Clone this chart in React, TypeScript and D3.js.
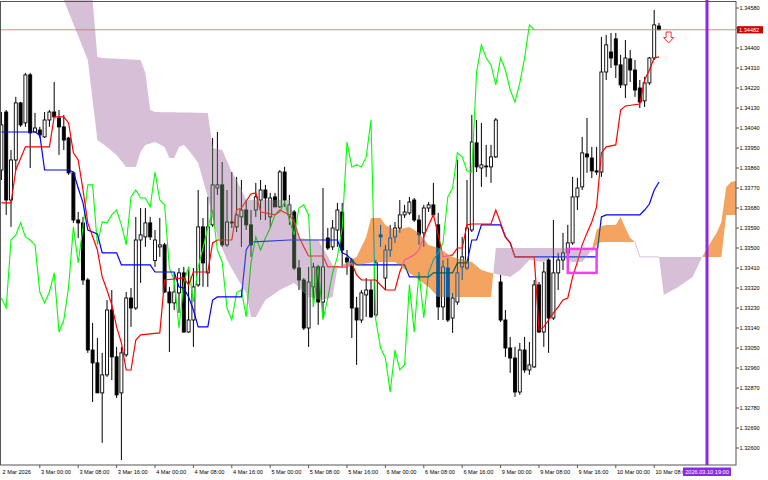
import { scaleLinear, line } from "d3";

const WIDTH = 768;
const HEIGHT = 480;
const PLOT_W = 736;
const PLOT_H = 465;

// H1 bars, first bar = 2 Mar 16:00, OHLC
const CANDLES: [number, number, number, number][] = [
  [1.33851, 1.34112, 1.33806, 1.34054], [1.34112, 1.34121, 1.33649, 1.33716], [1.33716, 1.33941, 1.33595, 1.33896],
  [1.33896, 1.3418, 1.33851, 1.34153], [1.34153, 1.34157, 1.34045, 1.34054], [1.34063, 1.34288, 1.34045, 1.34279],
  [1.34279, 1.34288, 1.3386, 1.34018], [1.34022, 1.34108, 1.34022, 1.3404], [1.34031, 1.34045, 1.33995, 1.34009],
  [1.34, 1.34112, 1.33995, 1.34076], [1.34076, 1.34121, 1.34045, 1.34112], [1.34112, 1.34247, 1.34085, 1.3409],
  [1.34085, 1.34121, 1.33919, 1.34045], [1.34045, 1.34099, 1.33941, 1.33986], [1.33995, 1.34, 1.33829, 1.33838],
  [1.33838, 1.33842, 1.33613, 1.33626], [1.33626, 1.33662, 1.33545, 1.33613], [1.33613, 1.3364, 1.33334, 1.33356],
  [1.33356, 1.33365, 1.33028, 1.33041], [1.33041, 1.33163, 1.32807, 1.32983], [1.32983, 1.33095, 1.32848, 1.32848],
  [1.32848, 1.33028, 1.32623, 1.32929], [1.32929, 1.33266, 1.3292, 1.33221], [1.33221, 1.33311, 1.32906, 1.3301],
  [1.3301, 1.33055, 1.32825, 1.32839], [1.32848, 1.33055, 1.32546, 1.33028], [1.33019, 1.33302, 1.3301, 1.33275],
  [1.33275, 1.3332, 1.33145, 1.3323], [1.3323, 1.3364, 1.33221, 1.33536], [1.33536, 1.3368, 1.33343, 1.33559],
  [1.3355, 1.3368, 1.33505, 1.33613], [1.33613, 1.3364, 1.33536, 1.3355], [1.33444, 1.33581, 1.33415, 1.33536],
  [1.33505, 1.33635, 1.3346, 1.33514], [1.33514, 1.33523, 1.33298, 1.33302], [1.33302, 1.33325, 1.33032, 1.33253],
  [1.33253, 1.33388, 1.33221, 1.33302], [1.33298, 1.3341, 1.33208, 1.33388], [1.33388, 1.33415, 1.33118, 1.33122],
  [1.33122, 1.33415, 1.33118, 1.33176], [1.33176, 1.3341, 1.33055, 1.33325], [1.33334, 1.33761, 1.33325, 1.33595],
  [1.33595, 1.33635, 1.33325, 1.33433], [1.33388, 1.3373, 1.33325, 1.33595], [1.33604, 1.33995, 1.33595, 1.33784],
  [1.3377, 1.34022, 1.33739, 1.33784], [1.33784, 1.33887, 1.33505, 1.33514], [1.33514, 1.33761, 1.33505, 1.33617],
  [1.33617, 1.33842, 1.3359, 1.33613], [1.33595, 1.3382, 1.33572, 1.33649], [1.3364, 1.33806, 1.33505, 1.33671],
  [1.33671, 1.33716, 1.33581, 1.33604], [1.33604, 1.33671, 1.3346, 1.33514], [1.33671, 1.33793, 1.3364, 1.3373],
  [1.33716, 1.33806, 1.33626, 1.33761], [1.33761, 1.33784, 1.33626, 1.33725], [1.3364, 1.33748, 1.3359, 1.33725],
  [1.3373, 1.33748, 1.33685, 1.33685], [1.33685, 1.33851, 1.3368, 1.33842], [1.33842, 1.33865, 1.33685, 1.33716],
  [1.33649, 1.33739, 1.33604, 1.33694], [1.33662, 1.33671, 1.33401, 1.3341], [1.3341, 1.33446, 1.33311, 1.33356],
  [1.33356, 1.33365, 1.33131, 1.3314], [1.3314, 1.33415, 1.33055, 1.33347], [1.33325, 1.33433, 1.33235, 1.33415],
  [1.33415, 1.33424, 1.33154, 1.33257], [1.33257, 1.3377, 1.33185, 1.33415], [1.33545, 1.3359, 1.33491, 1.335],
  [1.33505, 1.33626, 1.33491, 1.3359], [1.33581, 1.33703, 1.33505, 1.33671], [1.33662, 1.33703, 1.3341, 1.33491],
  [1.33455, 1.33491, 1.33379, 1.33437], [1.33446, 1.33455, 1.33095, 1.3323], [1.3323, 1.3328, 1.32974, 1.33176],
  [1.33176, 1.33311, 1.33163, 1.33298], [1.33289, 1.33365, 1.3319, 1.33311], [1.33311, 1.33356, 1.33185, 1.3319],
  [1.33199, 1.33446, 1.3319, 1.33433], [1.33559, 1.33604, 1.33505, 1.3355], [1.33365, 1.33514, 1.33311, 1.33491],
  [1.33491, 1.33604, 1.3346, 1.33545], [1.3355, 1.33617, 1.33523, 1.3359], [1.3359, 1.33716, 1.33568, 1.33649],
  [1.33649, 1.33694, 1.33635, 1.33662], [1.33658, 1.3373, 1.33649, 1.33707], [1.33716, 1.33725, 1.33617, 1.33626],
  [1.33626, 1.33649, 1.33514, 1.33559], [1.33568, 1.33694, 1.33505, 1.3368], [1.3368, 1.33707, 1.33662, 1.33694],
  [1.33694, 1.33793, 1.3364, 1.33649], [1.33604, 1.33658, 1.33176, 1.33235], [1.33235, 1.33446, 1.33176, 1.33415],
  [1.3341, 1.33455, 1.33167, 1.33176], [1.33185, 1.33298, 1.33118, 1.33275], [1.33257, 1.33896, 1.33244, 1.33388],
  [1.33415, 1.3355, 1.33356, 1.3346], [1.3341, 1.33806, 1.33401, 1.3359], [1.33581, 1.34099, 1.33572, 1.33977],
  [1.33973, 1.34076, 1.33842, 1.33865], [1.3386, 1.34063, 1.33775, 1.33874], [1.33869, 1.33964, 1.3382, 1.33865],
  [1.33865, 1.33964, 1.33793, 1.3391], [1.3391, 1.34085, 1.33905, 1.34076], [1.33347, 1.33379, 1.33167, 1.33176],
  [1.33176, 1.33221, 1.3301, 1.3305], [1.3305, 1.331, 1.32938, 1.33005], [1.33005, 1.33055, 1.3283, 1.32852],
  [1.32852, 1.33073, 1.32839, 1.33041], [1.33041, 1.331, 1.32938, 1.32951], [1.32951, 1.33077, 1.32929, 1.32974],
  [1.32965, 1.33356, 1.3296, 1.33334], [1.33334, 1.33347, 1.33118, 1.33122], [1.33122, 1.33437, 1.33055, 1.33392],
  [1.33446, 1.33455, 1.33028, 1.33185], [1.33185, 1.33626, 1.33176, 1.33388], [1.33388, 1.33478, 1.33311, 1.33446],
  [1.33446, 1.33568, 1.33401, 1.33478], [1.33478, 1.33604, 1.33433, 1.33523], [1.33523, 1.3382, 1.33514, 1.3373],
  [1.3373, 1.33815, 1.33671, 1.3377], [1.33775, 1.34, 1.33761, 1.33928], [1.33923, 1.34085, 1.33838, 1.3391],
  [1.33905, 1.33955, 1.33815, 1.33847], [1.33847, 1.33955, 1.33829, 1.33842], [1.33842, 1.3445, 1.3382, 1.34292],
  [1.34292, 1.34459, 1.34256, 1.34414], [1.34382, 1.34468, 1.3431, 1.34355], [1.34441, 1.34468, 1.34265, 1.34324],
  [1.34324, 1.34369, 1.3422, 1.34234], [1.34234, 1.34436, 1.34175, 1.34355], [1.34351, 1.34391, 1.34247, 1.34301],
  [1.34301, 1.34346, 1.3418, 1.34211], [1.3422, 1.34256, 1.3413, 1.34157], [1.34162, 1.3427, 1.34135, 1.34243],
  [1.34243, 1.3436, 1.34234, 1.34355], [1.34355, 1.34571, 1.34346, 1.34504], [1.34499, 1.34513, 1.34481, 1.34482],
];

// [bar, price]
const TENKAN: [number, number][] = [
  [0, 1.33703], [2, 1.33703], [3, 1.33851], [5, 1.33955], [10, 1.33955], [11, 1.3409], [13, 1.3409], [14, 1.34063],
  [15, 1.33928], [16, 1.33896], [17, 1.33761], [18, 1.33613], [20, 1.33491], [21, 1.3337], [22, 1.33311], [23, 1.33244],
  [24, 1.33145], [25, 1.33073], [26, 1.32951], [27, 1.32951], [28, 1.33086], [29, 1.33109], [33, 1.33118], [34, 1.33356],
  [38, 1.33365], [39, 1.33334], [40, 1.33392], [43, 1.33392], [44, 1.33523], [45, 1.33536], [48, 1.33536], [49, 1.33671],
  [50, 1.3368], [52, 1.33743], [53, 1.33748], [54, 1.33662], [55, 1.33658], [57, 1.33649], [58, 1.33671], [60, 1.33649],
  [61, 1.33617], [62, 1.3355], [63, 1.33505], [64, 1.33464], [67, 1.33464], [68, 1.33415], [72, 1.33415], [73, 1.33433],
  [74, 1.33379], [75, 1.33356], [78, 1.33356], [80, 1.33311], [82, 1.33311], [83, 1.33392], [84, 1.33446], [86, 1.33469],
  [87, 1.33491], [88, 1.3355], [89, 1.33604], [90, 1.33649], [91, 1.33559], [92, 1.3346], [94, 1.33469], [95, 1.335],
  [96, 1.335], [97, 1.33604], [98, 1.33608], [102, 1.33608], [103, 1.33671], [104, 1.33613], [105, 1.3355], [106, 1.33523],
  [107, 1.3346], [111, 1.3346], [112, 1.33131], [113, 1.33145], [114, 1.33176], [115, 1.33208], [116, 1.33235],
  [117, 1.33266], [118, 1.33275], [119, 1.3337], [120, 1.33437], [121, 1.33514], [122, 1.33568], [123, 1.33617],
  [124, 1.33685], [125, 1.33928], [126, 1.33955], [128, 1.33964], [129, 1.34121], [130, 1.34139], [133, 1.34148],
  [134, 1.34256], [135, 1.34301], [136, 1.34355], [137, 1.3436],
];

const KIJUN: [number, number][] = [
  [0, 1.34022], [7, 1.34022], [8, 1.34009], [9, 1.33851], [14, 1.33851], [15, 1.33842], [16, 1.3377], [17, 1.33703],
  [18, 1.33581], [20, 1.33563], [21, 1.33478], [24, 1.33478], [25, 1.33424], [31, 1.33424], [32, 1.33392], [36, 1.33392],
  [37, 1.33325], [38, 1.3332], [39, 1.3328], [40, 1.33221], [41, 1.33145], [43, 1.33145], [44, 1.33266], [45, 1.3328],
  [50, 1.3328], [51, 1.33491], [52, 1.33527], [60, 1.33536], [70, 1.33536], [71, 1.33478], [72, 1.33469], [74, 1.33424],
  [84, 1.33424], [85, 1.3337], [89, 1.3337], [90, 1.33388], [94, 1.33388], [95, 1.33433], [97, 1.33433], [98, 1.33536],
  [99, 1.33536], [100, 1.33604], [104, 1.33604], [105, 1.3355], [106, 1.33523], [107, 1.3346], [124, 1.3346],
  [125, 1.3364], [126, 1.33649], [133, 1.33649], [134, 1.33671], [135, 1.33698], [136, 1.33761], [137, 1.33797],
];

const SENKOU_A: [number, number][] = [
  [0, 1.34886], [8, 1.34751], [13, 1.34616], [18, 1.34346], [20, 1.33986], [22, 1.33955], [24, 1.33919], [26, 1.33865],
  [28, 1.33865], [29, 1.33932], [30, 1.33964], [32, 1.33977], [34, 1.33955], [35, 1.33905], [36, 1.33905], [37, 1.33955],
  [38, 1.33964], [39, 1.33941], [41, 1.33883], [43, 1.3373], [45, 1.3355], [47, 1.33446], [49, 1.3337], [51, 1.33298],
  [52, 1.3319], [53, 1.3319], [55, 1.33266], [58, 1.33311], [61, 1.33343], [64, 1.3328], [67, 1.33266], [69, 1.3328],
  [70, 1.3341], [74, 1.3346], [76, 1.3355], [77, 1.33635], [79, 1.33635], [80, 1.33604], [82, 1.33581], [85, 1.33595],
  [87, 1.33568], [89, 1.33514], [91, 1.335], [94, 1.3346], [98, 1.33437], [100, 1.33401], [102, 1.33388], [106, 1.3337],
  [108, 1.33401], [110, 1.33446], [113, 1.33437], [115, 1.33469], [119, 1.33437], [121, 1.33437], [123, 1.33491],
  [124, 1.33581], [125, 1.33599], [126, 1.33604], [128, 1.33604], [129, 1.3364], [130, 1.3359], [131, 1.33545],
  [132, 1.33527], [133, 1.3346], [137, 1.3346], [138, 1.33289], [141, 1.33325], [144, 1.3337], [145, 1.33415],
  [146, 1.3346], [147, 1.335], [149, 1.33568], [150, 1.33617], [151, 1.33775], [152, 1.33797], [154, 1.33806],
];

const SENKOU_B: [number, number][] = [
  [0, 1.34976], [16, 1.34751], [19, 1.34616], [20, 1.3436], [21, 1.34355], [29, 1.34346], [30, 1.34288], [31, 1.34121],
  [32, 1.34112], [43, 1.34108], [44, 1.3395], [46, 1.33941], [48, 1.33842], [49, 1.33806], [51, 1.33716], [60, 1.33716],
  [62, 1.33545], [66, 1.33536], [67, 1.335], [69, 1.33424], [70, 1.3341], [74, 1.33424], [78, 1.33437], [82, 1.33437],
  [85, 1.33388], [89, 1.33325], [91, 1.3328], [102, 1.3328], [103, 1.335], [122, 1.335], [123, 1.33482], [124, 1.33514],
  [125, 1.33527], [132, 1.33527], [133, 1.3346], [150, 1.3346], [151, 1.33649], [154, 1.33649],
];

const CHIKOU_SHIFT = 26;

const PRICE_TICKS = [
  1.3458, 1.3449, 1.344, 1.3431, 1.3422, 1.3413, 1.3404, 1.3395, 1.3386, 1.3377, 1.3368, 1.3359,
  1.335, 1.3341, 1.3332, 1.3323, 1.3314, 1.3305, 1.3296, 1.3287, 1.3278, 1.3269, 1.326,
];

const TIME_LABELS: [number, string][] = [
  [0, "2 Mar 2026"], [8, "3 Mar 00:00"], [16, "3 Mar 08:00"], [24, "3 Mar 16:00"], [32, "4 Mar 00:00"],
  [40, "4 Mar 08:00"], [48, "4 Mar 16:00"], [56, "5 Mar 00:00"], [64, "5 Mar 08:00"], [72, "5 Mar 16:00"],
  [80, "6 Mar 00:00"], [88, "6 Mar 08:00"], [96, "6 Mar 16:00"], [104, "9 Mar 00:00"], [112, "9 Mar 08:00"],
  [120, "9 Mar 16:00"], [128, "10 Mar 00:00"], [136, "10 Mar 08:00"],
];

const LAST_PRICE = 1.34482;
const VLINE_BAR = 147;
const VLINE_LABEL = "2026.03.10 19:00";
const SELL_ARROW: [number, number] = [139, 1.34472];
const BOX_BARS: [number, number] = [118, 124];
const BOX_PRICES: [number, number] = [1.33496, 1.33388];

const FONT = "'Liberation Sans', Arial, sans-serif";

// MT5 fills the kumo in xor mode, so whatever lies inside it changes colour
const PAL_NORMAL = { ink: "#000", bull: "#fff", chikou: "#00ff00", kijun: "#0000ff", tenkan: "#ff0000" };
const PAL_UP = { ink: "rgb(11,91,159)", bull: "#f4a460", chikou: "rgb(11,164,159)", kijun: "rgb(11,91,96)", tenkan: "rgb(244,91,159)" };
const PAL_DOWN = { ink: "rgb(39,64,39)", bull: "#d8bfd8", chikou: "rgb(39,191,39)", kijun: "rgb(39,64,216)", tenkan: "rgb(216,64,39)" };

type Pt = [number, number];

function valueAt(pts: Pt[], b: number) {
  for (let k = 1; k < pts.length; k++) {
    if (b <= pts[k][0]) {
      const [b0, p0] = pts[k - 1];
      const [b1, p1] = pts[k];
      return b1 === b0 ? p1 : p0 + ((b - b0) / (b1 - b0)) * (p1 - p0);
    }
  }
  return pts[pts.length - 1][1];
}

export default function App() {
  const xs = scaleLinear().domain([0, 153]).range([1.4, 735.8]);
  const ys = scaleLinear().domain([1.34616, 1.325235]).range([0, PLOT_H]);

  const chikou: Pt[] = CANDLES.slice(CHIKOU_SHIFT).map((c, k) => [k, c[3]]);

  const path = line<Pt>()
    .x((d) => xs(d[0]))
    .y((d) => ys(d[1]));

  // kumo polygons between span A and span B, split where they cross
  const breaks = Array.from(new Set([...SENKOU_A, ...SENKOU_B].map((d) => d[0]))).sort((a, b) => a - b);
  const poly = (p: Pt[]) => "M" + p.map((d) => `${xs(d[0]).toFixed(2)},${ys(d[1]).toFixed(2)}`).join("L") + "Z";
  let up = "";
  let down = "";
  let flat = "";
  for (let k = 1; k < breaks.length; k++) {
    const b0 = breaks[k - 1];
    const b1 = breaks[k];
    const a0 = valueAt(SENKOU_A, b0);
    const a1 = valueAt(SENKOU_A, b1);
    const c0 = valueAt(SENKOU_B, b0);
    const c1 = valueAt(SENKOU_B, b1);
    const d0 = a0 - c0;
    const d1 = a1 - c1;
    if (Math.abs(d0) < 0.00001 && Math.abs(d1) < 0.00001) {
      flat += `M${xs(b0)},${ys(a0)}L${xs(b1)},${ys(a1)}`;
      continue;
    }
    if (d0 * d1 >= 0) {
      const s = poly([[b0, a0], [b1, a1], [b1, c1], [b0, c0]]);
      if (d0 + d1 > 0) up += s;
      else down += s;
    } else {
      const t = d0 / (d0 - d1);
      const bm = b0 + t * (b1 - b0);
      const pm = a0 + t * (a1 - a0);
      const s0 = poly([[b0, a0], [bm, pm], [b0, c0]]);
      const s1 = poly([[bm, pm], [b1, a1], [b1, c1]]);
      if (d0 > 0) {
        up += s0;
        down += s1;
      } else {
        down += s0;
        up += s1;
      }
    }
  }

  const layer = (pal: typeof PAL_NORMAL) => (
    <>
      {CANDLES.map(([o, h, l, c], i) => {
        const x = xs(i);
        const top = ys(Math.max(o, c));
        const bh = Math.max(ys(Math.min(o, c)) - top, 0.8);
        return (
          <g key={i}>
            <line x1={x} x2={x} y1={ys(h)} y2={ys(l)} stroke={pal.ink} strokeWidth={1} />
            <rect
              x={x - 1.5}
              y={top}
              width={3}
              height={bh}
              fill={c >= o ? pal.bull : pal.ink}
              stroke={pal.ink}
              strokeWidth={0.9}
            />
          </g>
        );
      })}
      <path d={path(chikou) || ""} fill="none" stroke={pal.chikou} strokeWidth={1.1} />
      <path d={path(KIJUN) || ""} fill="none" stroke={pal.kijun} strokeWidth={1.2} />
      <path d={path(TENKAN) || ""} fill="none" stroke={pal.tenkan} strokeWidth={1.2} />
    </>
  );

  const lastY = ys(LAST_PRICE);
  const vx = xs(VLINE_BAR);
  const [ax, ay] = [xs(SELL_ARROW[0]), ys(SELL_ARROW[1])];

  return (
    <svg
      width={WIDTH}
      height={HEIGHT}
      style={{ position: "absolute", left: 0, top: 0 }}
      fontFamily={FONT}
    >
      <defs>
        <clipPath id="plot">
          <rect x={0} y={0} width={PLOT_W} height={PLOT_H} />
        </clipPath>
        <clipPath id="kumoUp">
          <path d={up} />
        </clipPath>
        <clipPath id="kumoDown">
          <path d={down} />
        </clipPath>
      </defs>
      <rect width={WIDTH} height={HEIGHT} fill="#fff" />

      <g clipPath="url(#plot)">
        {layer(PAL_NORMAL)}

        {/* kumo */}
        <path d={up} fill="#f4a460" />
        <path d={down} fill="#d8bfd8" />
        <path d={flat} fill="none" stroke="#d8bfd8" strokeWidth={1} />
        <g clipPath="url(#kumoUp)">{layer(PAL_UP)}</g>
        <g clipPath="url(#kumoDown)">{layer(PAL_DOWN)}</g>

        {/* bid line */}
        <line x1={0} x2={PLOT_W} y1={lastY} y2={lastY} stroke="#e06464" strokeWidth={0.8} />

        {/* rectangle object */}
        <rect
          x={xs(BOX_BARS[0])}
          y={ys(BOX_PRICES[0])}
          width={xs(BOX_BARS[1]) - xs(BOX_BARS[0])}
          height={ys(BOX_PRICES[1]) - ys(BOX_PRICES[0])}
          fill="none"
          stroke="#f040f0"
          strokeWidth={2.5}
        />

        {/* sell arrow */}
        <path
          d={`M${ax - 2.5},${ay} L${ax + 2.5},${ay} L${ax + 2.5},${ay + 5.5} L${ax + 5},${ay + 5.5} L${ax},${ay + 11} L${ax - 5},${ay + 5.5} L${ax - 2.5},${ay + 5.5} Z`}
          fill="#fff"
          stroke="#ff3030"
          strokeWidth={1}
        />

        {/* vertical line object */}
        <line x1={vx} x2={vx} y1={0} y2={PLOT_H} stroke="#8a2be2" strokeWidth={3} />
      </g>

      {/* frame */}
      <rect x={0.5} y={1.5} width={PLOT_W - 0.5} height={PLOT_H - 1.5} fill="none" stroke="#555" strokeWidth={1} />

      {/* price axis */}
      {PRICE_TICKS.map((p) => (
        <g key={p}>
          <line x1={PLOT_W} x2={PLOT_W + 3} y1={ys(p)} y2={ys(p)} stroke="#555" strokeWidth={1} />
          {Math.abs(ys(p) - lastY) > 6 && (
            <text x={PLOT_W + 3.5} y={ys(p)} dy="0.35em" fontSize={5.6} fill="#000">
              {p.toFixed(5)}
            </text>
          )}
        </g>
      ))}
      <rect x={PLOT_W + 1} y={lastY - 3.6} width={26} height={7.2} fill="#d00000" />
      <text x={PLOT_W + 3} y={lastY} dy="0.35em" fontSize={5.6} fill="#fff">
        {LAST_PRICE.toFixed(5)}
      </text>

      {/* time axis */}
      {TIME_LABELS.map(([b, s]) => (
        <g key={b}>
          {b > 0 && <line x1={xs(b)} x2={xs(b)} y1={PLOT_H} y2={PLOT_H + 3} stroke="#555" strokeWidth={1} />}
          <text x={xs(b) + 1.2} y={PLOT_H + 9} fontSize={5.6} fill="#000">
            {s}
          </text>
        </g>
      ))}
      <rect x={vx - 24} y={PLOT_H + 2.5} width={48} height={8.5} fill="#8a2be2" />
      <text x={vx} y={PLOT_H + 9} textAnchor="middle" fontSize={5.6} fill="#fff">
        {VLINE_LABEL}
      </text>
    </svg>
  );
}
